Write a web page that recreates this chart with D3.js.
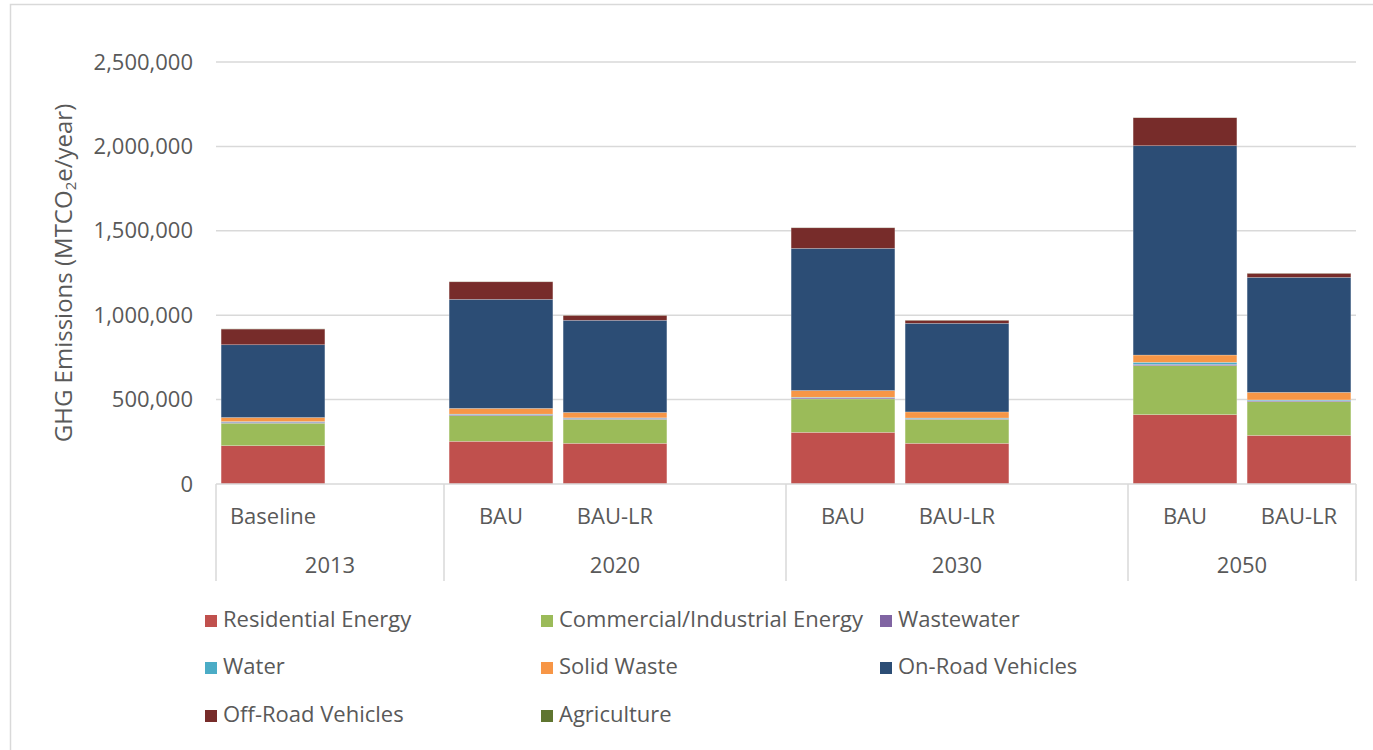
<!DOCTYPE html>
<html>
<head>
<meta charset="utf-8">
<script src="https://cdn.jsdelivr.net/npm/d3@7/dist/d3.min.js"></script>
<style>
  body { margin: 0; background: #fff; }
  svg { display: block; font-family: "Open Sans", "Liberation Sans", sans-serif; }
</style>
</head>
<body>
<svg id="chart" width="1373" height="750"></svg>
<script>
// categories (blank slots are Excel's empty category cells)
const scenarios = ["Baseline", "", "BAU", "BAU-LR", "", "BAU", "BAU-LR", "", "BAU", "BAU-LR"];
const years     = ["2013", "2013", "2020", "2020", "2020", "2030", "2030", "2030", "2050", "2050"];

const seriesNames = ["Residential Energy", "Commercial/Industrial Energy", "Wastewater", "Water",
  "Solid Waste", "On-Road Vehicles", "Off-Road Vehicles", "Agriculture"];
const seriesColors = ["#c0504d", "#9bbb59", "#8064a2", "#4bacc6", "#f79646", "#2c4d75", "#772c2a", "#5f7530"];

// MTCO2e/year, per slot (null = empty slot)
const residential = [227000, null, 253000, 241000, null, 306000, 241000, null, 411000, 288000];
const commercial  = [133000, null, 152000, 142000, null, 198000, 142000, null, 290000, 200000];
const wastewater  = [6000,   null, 6000,   6000,   null, 6000,   5000,   null, 8000,   6000];
const water       = [4000,   null, 3000,   3000,   null, 4000,   3000,   null, 12000,  4000];
const solidWaste  = [24000,  null, 34000,  32000,  null, 40000,  36000,  null, 43000,  45000];
const onRoad      = [431000, null, 646000, 546000, null, 842000, 525000, null, 1240000, 681000];
const offRoad     = [93000,  null, 104000, 29000,  null, 122000, 18000,  null, 166000, 24000];
const agriculture = [1000,   null, 1000,   1000,   null, 1000,   1000,   null, 1000,   1000];

const yTicks = [0, 500000, 1000000, 1500000, 2000000, 2500000];

const seriesValues = [residential, commercial, wastewater, water, solidWaste, onRoad, offRoad, agriculture];

const svg = d3.select("#chart");
const M = { left: 216, right: 1356, top: 62, bottom: 484 };
const textCol = "#595959", gridCol = "#d9d9d9";
const fs = "22px";

// outer chart frame
svg.append("rect").attr("x", 10.5).attr("y", 4.5).attr("width", 1400).attr("height", 800)
  .attr("fill", "none").attr("stroke", gridCol).attr("stroke-width", 1.5);

const idx = d3.range(scenarios.length);
const x = d3.scaleBand().domain(idx).range([M.left, M.right]).paddingInner(0.09).paddingOuter(0.045);
const y = d3.scaleLinear().domain([0, 2500000]).range([M.bottom, M.top]);

// gridlines
svg.append("g").selectAll("line").data(yTicks.filter(d => d > 0)).join("line")
  .attr("x1", M.left).attr("x2", M.right)
  .attr("y1", d => y(d)).attr("y2", d => y(d))
  .attr("stroke", gridCol).attr("stroke-width", 1.5);

// y axis labels
const yAxis = svg.append("g").attr("transform", `translate(${M.left},0)`)
  .call(d3.axisLeft(y).tickValues(yTicks).tickSize(0).tickPadding(23).tickFormat(d3.format(",")));
yAxis.select(".domain").remove();
yAxis.selectAll("text").attr("fill", textCol).attr("font-size", fs)
  .attr("font-family", "Open Sans, sans-serif");

// stacked bars
const table = idx.map(i => {
  const row = { i };
  seriesNames.forEach((n, k) => { row[n] = seriesValues[k][i] || 0; });
  return row;
});
const stack = d3.stack().keys(seriesNames)(table);

svg.append("g").selectAll("g").data(stack).join("g")
  .attr("fill", (d, k) => seriesColors[k])
  .selectAll("rect").data(d => d.filter(p => scenarios[p.data.i] !== "")).join("rect")
  .attr("x", d => x(d.data.i))
  .attr("width", x.bandwidth())
  .attr("y", d => y(d[1]))
  .attr("height", d => Math.max(0, y(d[0]) - y(d[1])))
  .attr("stroke", "rgba(255,255,255,0.35)").attr("stroke-width", 0.6);

// category axis line
svg.append("line").attr("x1", M.left).attr("x2", M.right).attr("y1", M.bottom).attr("y2", M.bottom)
  .attr("stroke", gridCol).attr("stroke-width", 1.5);

// group dividers (multi-level category axis)
const groupNames = Array.from(new Set(years));
const groupSpan = groupNames.map(g => {
  const members = idx.filter(i => years[i] === g);
  const left = x(members[0]) - (x.step() - x.bandwidth()) / 2;
  return { g, left, right: left + x.step() * members.length };
});
const bounds = [groupSpan[0].left].concat(groupSpan.map(d => d.right));
svg.append("g").selectAll("line").data(bounds).join("line")
  .attr("x1", d => d).attr("x2", d => d)
  .attr("y1", M.bottom).attr("y2", 581)
  .attr("stroke", gridCol).attr("stroke-width", 1.5);

// scenario labels
svg.append("g").selectAll("text").data(idx.filter(i => scenarios[i] !== "")).join("text")
  .attr("x", i => x(i) + x.bandwidth() / 2)
  .attr("y", 518)
  .attr("text-anchor", "middle").attr("dominant-baseline", "middle")
  .attr("fill", textCol).attr("font-size", fs)
  .text(i => scenarios[i]);

// year labels
svg.append("g").selectAll("text").data(groupSpan).join("text")
  .attr("x", d => (d.left + d.right) / 2)
  .attr("y", 567)
  .attr("text-anchor", "middle").attr("dominant-baseline", "middle")
  .attr("fill", textCol).attr("font-size", fs)
  .text(d => d.g);

// y axis title
const title = svg.append("text")
  .attr("transform", "translate(66,273) rotate(-90)")
  .attr("text-anchor", "middle").attr("dominant-baseline", "middle")
  .attr("fill", textCol).attr("font-size", "24px");
title.append("tspan").text("GHG Emissions (MTCO");
title.append("tspan").attr("font-size", "15px").attr("dy", 6).text("2");
title.append("tspan").attr("dy", -6).text("e/year)");

// legend
const legCols = [205, 541, 880], legRows = [621, 668, 716];
const leg = svg.append("g").selectAll("g").data(seriesNames).join("g")
  .attr("transform", (d, k) => `translate(${legCols[k % 3]},${legRows[Math.floor(k / 3)]})`);
leg.append("rect").attr("x", 0).attr("y", -6).attr("width", 12).attr("height", 12)
  .attr("fill", (d, k) => seriesColors[k]);
leg.append("text").attr("x", 18).attr("y", 0).attr("dominant-baseline", "middle")
  .attr("fill", textCol).attr("font-size", fs).text(d => d);
</script>
</body>
</html>
